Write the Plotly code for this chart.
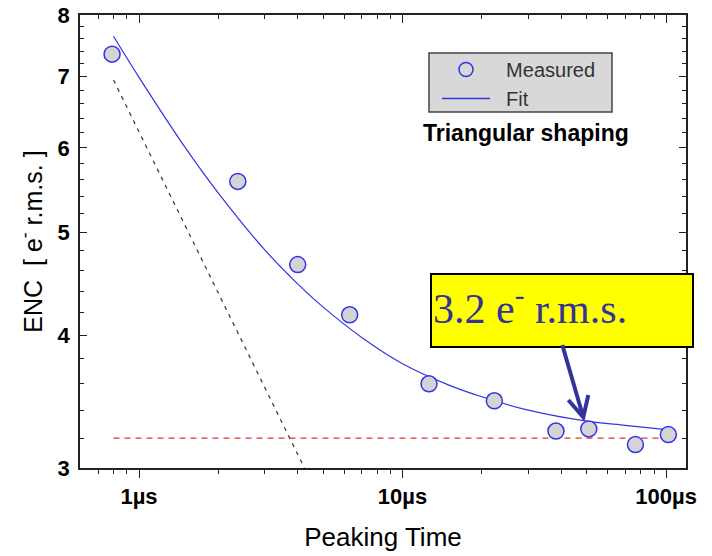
import plotly.graph_objects as go
import numpy as np

# ---- data ----
peaking_time_us = [0.79, 2.37, 4.0, 6.3, 12.6, 22.3, 38.2, 50.9, 76.5, 102]
enc_measured = [7.35, 5.58, 4.66, 4.18, 3.60, 3.47, 3.25, 3.265, 3.156, 3.225]

fit_time_us = [0.8, 1.0, 1.5, 2, 3, 4, 5, 7, 10, 15, 20, 30, 50, 70, 100]
fit_enc = [7.64, 6.99, 6.00, 5.44, 4.81, 4.47, 4.25, 3.98, 3.76, 3.59, 3.50, 3.40, 3.32, 3.29, 3.26]

series_time_us = [0.8, 4.24]
series_enc = [6.95, 3.0]

floor_time_us = [0.8, 96]
floor_enc = [3.2, 3.2]

x_tickvals = [1, 10, 100]
x_ticktext = ["1µs", "10µs", "100µs"]
y_tickvals = [3, 4, 5, 6, 7, 8]
y_ticktext = ["3", "4", "5", "6", "7", "8"]

x_minor = [0.7, 0.8, 0.9] + [m * d for d in (1, 10) for m in range(2, 10)]
y_minor = [round(v, 1) for v in np.arange(3.2, 8.0, 0.2) if abs(v - round(v)) > 1e-6]

W, H = 712, 556
PL, PR, PT, PB = 80, 686, 15, 468          # plot area in window pixels
L, T = PL, PT
R, B = W - PR, H - PB
PW, PH = PR - PL, PB - PT


def px(x):
    return (x - PL) / PW


def py(y):
    return 1 - (y - PT) / PH


FONT = "Arial, Liberation Sans, sans-serif"
BLUE = "#3333e6"
NB = "\u00a0"

fig = go.Figure()

fig.add_trace(go.Scatter(x=series_time_us, y=series_enc, mode="lines",
                         line=dict(color="#44442a", width=1.3, dash="4px,5px"),
                         showlegend=False, hoverinfo="skip"))
fig.add_trace(go.Scatter(x=floor_time_us, y=floor_enc, mode="lines",
                         line=dict(color="#e83030", width=1.2, dash="6px,5px"),
                         showlegend=False, hoverinfo="skip"))
fig.add_trace(go.Scatter(x=fit_time_us, y=fit_enc, mode="lines",
                         line=dict(color=BLUE, width=1.2, shape="spline"),
                         showlegend=False))
fig.add_trace(go.Scatter(x=peaking_time_us, y=enc_measured, mode="markers",
                         marker=dict(size=16, color="#d4d4d4",
                                     line=dict(color=BLUE, width=1.5)),
                         showlegend=False))
# legend-only entries
fig.add_trace(go.Scatter(x=[None], y=[None], mode="markers", name=NB * 2 + "Measured",
                         marker=dict(symbol="circle-open", size=14, color=BLUE,
                                     line=dict(width=1.5))))
fig.add_trace(go.Scatter(x=[None], y=[None], mode="lines", name=NB * 2 + "Fit",
                         line=dict(color=BLUE, width=1.5)))
# invisible trace to show top axis
fig.add_trace(go.Scatter(x=[1], y=[None], xaxis="x2", mode="markers",
                         showlegend=False, hoverinfo="skip"))

xr = [np.log10(0.597), np.log10(119)]
yr = [np.log10(3), np.log10(8)]

fig.update_layout(
    width=W, height=H,
    margin=dict(l=L, r=R, t=T, b=B, autoexpand=False),
    paper_bgcolor="white", plot_bgcolor="white",
    font=dict(family=FONT, color="black"),
    xaxis=dict(type="log", range=xr, showgrid=False, zeroline=False,
               automargin=False,
               showline=True, linecolor="#222", linewidth=1.5,
               ticks="outside", ticklen=8, tickwidth=1.2, tickcolor="#222",
               tickmode="array", tickvals=x_tickvals, ticktext=x_ticktext,
               tickfont=dict(family=FONT, size=22, color="black", weight="bold"),
               ticklabeloverflow="allow",
               minor=dict(tickmode="array", tickvals=x_minor, ticks="outside",
                          ticklen=4, tickwidth=1.2, tickcolor="#222"),
               title=dict(text="Peaking Time",
                          font=dict(family=FONT, size=26, color="black"),
                          standoff=20)),
    xaxis2=dict(type="log", range=xr, overlaying="x", side="top",
                automargin=False,
                showgrid=False, zeroline=False, showline=True,
                linecolor="#222", linewidth=1.5,
                ticks="inside", ticklen=8, tickwidth=1.2, tickcolor="#222",
                tickmode="array", tickvals=x_tickvals, showticklabels=False,
                minor=dict(tickmode="array", tickvals=x_minor, ticks="inside",
                           ticklen=4, tickwidth=1.2, tickcolor="#222")),
    yaxis=dict(type="log", range=yr, showgrid=False, zeroline=False,
               automargin=False,
               showline=True, linecolor="#222", linewidth=1.5, mirror="ticks",
               ticks="inside", ticklen=7, tickwidth=1.2, tickcolor="#222",
               tickmode="array", tickvals=y_tickvals, ticktext=y_ticktext,
               tickfont=dict(family=FONT, size=22, color="black", weight="bold"),
               ticklabelstandoff=4, ticklabeloverflow="allow",
               minor=dict(tickmode="array", tickvals=y_minor, ticks="inside",
                          ticklen=4, tickwidth=1.2, tickcolor="#222"),
               title=dict(text="ENC  [ e<sup>-</sup> r.m.s. ]",
                          font=dict(family=FONT, size=25, color="black"),
                          standoff=8)),
    legend=dict(x=px(437), y=py(50), xanchor="left", yanchor="top",
                bgcolor="rgba(0,0,0,0)", borderwidth=0,
                font=dict(family=FONT, size=20, color="#333"),
                itemwidth=48, tracegroupgap=0),
    showlegend=True,
)

# legend box
fig.add_shape(type="rect", xref="paper", yref="paper",
              x0=px(429), x1=px(612), y0=py(112), y1=py(53),
              fillcolor="#d8d8d8", line=dict(color="#444", width=1.5), layer="above")

fig.add_annotation(text="<b>Triangular shaping</b>", xref="paper", yref="paper",
                   x=px(526), y=py(133), xanchor="center", yanchor="middle",
                   showarrow=False,
                   font=dict(family=FONT, size=23, color="black"))

# yellow callout
fig.add_shape(type="rect", xref="paper", yref="paper",
              x0=px(431), x1=px(693), y0=py(347), y1=py(274),
              fillcolor="#ffff00", line=dict(color="black", width=2), layer="above")
fig.add_annotation(text="3.2 e<sup>-</sup> r.m.s.", xref="paper", yref="paper",
                   x=px(431), y=py(305), xanchor="left", yanchor="middle",
                   showarrow=False,
                   font=dict(family="Times New Roman, Liberation Serif, serif",
                             size=42, color="#333399"))

# arrow
tail = (562.3, 345)
tip = (583.3, 417.3)
armL = (568.3, 400)
armR = (588.3, 395)
path = (f"M {px(tail[0])},{py(tail[1])} L {px(tip[0])},{py(tip[1])} "
        f"M {px(armL[0])},{py(armL[1])} L {px(tip[0])},{py(tip[1])} "
        f"L {px(armR[0])},{py(armR[1])}")
fig.add_shape(type="path", xref="paper", yref="paper", path=path,
              line=dict(color="#333399", width=4), layer="above")

fig.write_html("out.html",
               config={"displayModeBar": False},
               post_script="document.body.style.margin='0';document.body.style.overflow='hidden';")
